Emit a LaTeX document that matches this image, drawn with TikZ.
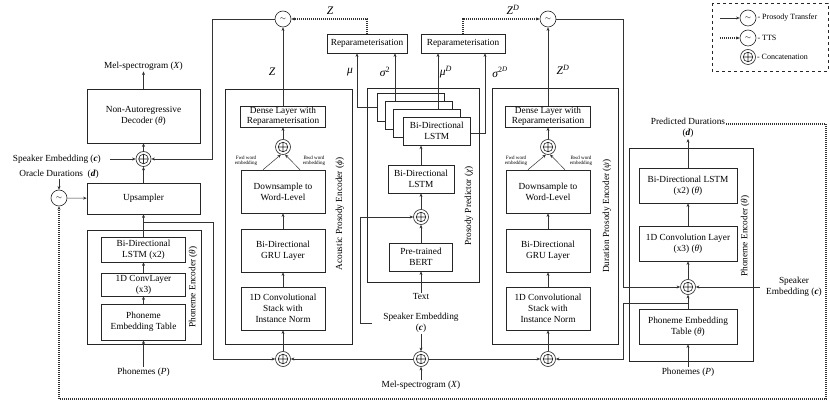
\documentclass[tikz,border=0pt]{standalone}
\usepackage{fontspec}
\setmainfont{Liberation Serif}
\usepackage{xcolor}
\usetikzlibrary{arrows, shapes, positioning, arrows.meta, calc}

\newcommand{\lblfont}{\fontsize{9.3}{11}\selectfont}
\newcommand{\symfont}{\fontsize{11.5}{12}\selectfont\itshape}

\tikzstyle{block} = [draw=black!85, line width=0.6pt, fill=white, align=center, inner sep=1pt, font=\lblfont]
\tikzstyle{group} = [draw=black!85, line width=0.6pt]
\tikzstyle{stack} = [block, anchor=north west, minimum width=67pt, minimum height=28pt]
\tikzstyle{lbl} = [align=center, inner sep=1pt, font=\lblfont]
\tikzstyle{side} = [lbl, rotate=90]
\tikzstyle{sym} = [inner sep=1pt, font=\symfont]
\tikzstyle{tiny} = [align=center, inner sep=0pt, font=\fontsize{5}{5.5}\selectfont]
\tikzstyle{key} = [anchor=west, inner sep=1pt, font=\fontsize{8}{9}\selectfont]
\tikzstyle{arrow} = [draw=black!80, line width=0.5pt, -{Stealth[length=3.6pt,width=3pt]}]
\tikzstyle{tts} = [arrow, line width=1.1pt, dash pattern=on 1.1pt off 0.9pt]
\tikzstyle{switch} = [circle, draw=black!85, line width=0.6pt, fill=white, minimum size=16pt, inner sep=0pt, font=\scriptsize]
\tikzstyle{concat} = [circle, draw=black!85, line width=0.6pt, fill=white, minimum size=15pt, inner sep=0pt,
  path picture={\draw[line width=0.6pt] (path picture bounding box.center) circle (4.8pt)
    ([xshift=-4.8pt]path picture bounding box.center) -- ([xshift=4.8pt]path picture bounding box.center)
    ([yshift=-4.8pt]path picture bounding box.center) -- ([yshift=4.8pt]path picture bounding box.center);}]

\begin{document}
\begin{tikzpicture}[x=1pt, y=-1pt]
\useasboundingbox (0,0) rectangle (830,403);

% encoder outlines
\draw[group] (87,230) rectangle (201,344);
\draw[group] (225,89) rectangle (352,344);
\draw[group] (367,88) rectangle (479,282);
\draw[group] (492,88) rectangle (618,344);
\draw[group] (629,148) rectangle (753,361);
\node[side] (encL) at (193,287) {Phoneme Encoder (\textit{θ})};
\node[side] (encA) at (340,214) {Acoustic Prosody Encoder (\textit{ϕ})};
\node[side] (encP) at (469,206) {Prosody Predictor (\textit{χ})};
\node[side] (encD) at (607,216) {Duration Prosody Encoder (\textit{ψ})};
\node[side] (encR) at (745,236) {Phoneme Encoder (\textit{θ})};

% decoder side
\node[block, minimum width=113pt, minimum height=54pt] (dec) at (143.5,116) {Non-Autoregressive\\Decoder (\textit{θ})};
\node[lbl] (melL) at (143.5,66) {Mel-spectrogram (\textit{X})};
\node[concat] (catL) at (143.5,159) {};
\node[lbl, anchor=east] (spkL) at (102,159) {Speaker Embedding (\textbf{\textit{c}})};
\node[lbl] (orc) at (59,174) {Oracle Durations \ (\textbf{\textit{d}})};
\node[switch] (swL) at (59,198) {$\sim$};
\node[block, minimum width=113pt, minimum height=31pt] (ups) at (143.5,198.5) {Upsampler};
\node[block, minimum width=84pt, minimum height=25pt] (lstmL) at (143.5,249.5) {Bi-Directional\\LSTM (x2)};
\node[block, minimum width=84pt, minimum height=23pt] (convL) at (143.5,284.5) {1D ConvLayer\\(x3)};
\node[block, minimum width=84pt, minimum height=36pt] (embL) at (143.5,322) {Phoneme\\Embedding Table};
\node[lbl] (phonL) at (143.5,372) {Phonemes (\textit{P})};
\draw[arrow] (dec) -- (melL);
\draw[arrow] (catL) -- (dec);
\draw[arrow] ([xshift=8pt]spkL.east) -- (catL);
\draw[arrow] (ups) -- (catL);
\draw[arrow] (orc) -- (swL);
\draw[arrow] (swL) -- (ups);
\draw[arrow] (lstmL) -- (ups);
\draw[arrow] (convL) -- (lstmL);
\draw[arrow] (embL) -- (convL);
\draw[arrow] (phonL) -- (embL);

% acoustic and duration prosody encoders
\foreach \p/\x/\f/\b in {A/283/-37/31, D/548/-32/33} {
  \node[block, minimum width=85pt, minimum height=21pt, inner sep=0.5pt, font=\fontsize{9.3}{10}\selectfont] (dense\p) at (\x,116.5) {Dense Layer with\\Reparameterisation};
  \node[concat] (word\p) at (\x,147) {};
  \node[tiny] (fwd\p) at (\x+\f,161) {Fwd word\\embedding};
  \node[tiny] (bwd\p) at (\x+\b,161) {Bwd word\\embedding};
  \node[block, minimum width=84pt, minimum height=43pt] (down\p) at (\x,191.5) {Downsample to\\Word-Level};
  \node[block, minimum width=84pt, minimum height=43pt] (gru\p) at (\x,250.5) {Bi-Directional\\GRU Layer};
  \node[block, minimum width=84pt, minimum height=43pt] (conv\p) at (\x,308.5) {1D Convolutional\\Stack with\\Instance Norm};
  \node[concat] (mix\p) at (\x,359) {};
  \node[switch] (sw\p) at (\x,19) {$\sim$};
  \draw[arrow] (mix\p) -- (conv\p);
  \draw[arrow] (conv\p) -- (gru\p);
  \draw[arrow] (gru\p) -- (down\p);
  \draw[arrow] ([xshift=-20pt]down\p.north) -- (word\p.-105);
  \draw[arrow] ([xshift=17pt]down\p.north) -- (word\p.-75);
  \draw[arrow] (word\p) -- (dense\p);
  \draw[arrow] (dense\p) -- (sw\p);
}
\node[sym] (zA) at (272,72) {Z};
\node[sym] (zD) at (563,70) {Z\textsuperscript{D}};

% prosody predictor
\node[block, minimum width=80pt, minimum height=19pt] (rep1) at (367,43.5) {Reparameterisation};
\node[block, minimum width=84pt, minimum height=19pt] (rep2) at (463,43.5) {Reparameterisation};
\node[sym] at (330,11) {Z};
\node[sym] at (513,10) {Z\textsuperscript{D}};
\foreach \n/\x/\y in {A/377/93, B/385/101, C/393/109}
  \node[stack] (lstm\n) at (\x,\y) {};
\node[stack] (lstmD) at (403,117) {Bi-Directional\\LSTM};
\node[block, minimum width=66pt, minimum height=28pt] (lstmP) at (421,179) {Bi-Directional\\LSTM};
\node[concat] (catP) at (421,217) {};
\node[block, minimum width=63pt, minimum height=28pt] (bert) at (421,257) {Pre-trained\\BERT};
\node[lbl] (txt) at (421,297) {Text};
\draw[arrow] (txt) -- (bert);
\draw[arrow] (bert) -- (catP);
\draw[arrow] (catP) -- (lstmP);
\draw[arrow] (lstmP) -- (lstmP |- lstmD.south);
\draw[arrow] (lstmA.west) -| ([xshift=-10pt]rep1.south);
\draw[arrow] ([xshift=10pt]lstmB.north west) -- ([xshift=10pt]lstmB.north west |- rep1.south);
\draw[arrow] ([xshift=45pt]lstmC.north west) -- ([xshift=45pt]lstmC.north west |- rep2.south);
\draw[arrow] ([yshift=-2pt]lstmD.east) -| ([xshift=22pt]rep2.south);
\node[sym] at (350,72) {μ};
\node[sym] at (385,72) {σ\textsuperscript{\upshape 2}};
\node[sym] at (446,72) {μ\textsuperscript{D}};
\node[sym] at (500,72) {σ\textsuperscript{\upshape 2\raisebox{0.5ex}{\scriptsize\itshape D}}};
\draw[tts] (rep1.north) |- (swA);
\draw[tts] (rep2.north) |- (swD);

% shared inputs
\node[lbl] (spkM) at (421,323) {Speaker Embedding\\(\textbf{\textit{c}})};
\node[concat] (catM) at (421,359) {};
\node[lbl] (melM) at (421,385) {Mel-spectrogram (\textit{X})};
\draw[arrow] (spkM) -- (catM);
\draw[arrow] (melM) -- (catM);
\draw[arrow] (catM) -- (mixA);
\draw[arrow] (catM) -- (mixD);
\draw[arrow] ([xshift=-10pt]spkM.west) -- ++(-12pt,0) |- (catP);
\draw[arrow] ([yshift=-8pt]ups.south) -| ([xshift=-62pt]mixA.west) -- (mixA);
\draw[arrow] (swA) -| ([xshift=61pt]catL.east) -- (catL);

% duration side
\node[block, minimum width=98pt, minimum height=35pt] (lstmR) at (688,185.5) {Bi-Directional LSTM\\(x2) (\textit{θ})};
\node[block, minimum width=98pt, minimum height=35pt] (convR) at (688,243.5) {1D Convolution Layer\\(x3) (\textit{θ})};
\node[concat] (catR) at (688,287) {};
\node[block, minimum width=98pt, minimum height=35pt] (embR) at (688,326.5) {Phoneme Embedding\\Table (\textit{θ})};
\node[lbl] (phonR) at (688,372) {Phonemes (\textit{P})};
\node[lbl] (predR) at (688,128) {Predicted Durations\\(\textbf{\textit{d}})};
\node[lbl] (spkR) at (794,287) {Speaker\\Embedding (\textbf{\textit{c}})};
\draw[arrow] (phonR) -- (embR);
\draw[arrow] (embR) -- (catR);
\draw[arrow] (catR) -- (convR);
\draw[arrow] (convR) -- (lstmR);
\draw[arrow] (lstmR) -- (predR);
\draw[arrow] ([xshift=-5pt]spkR.west) -- (catR);
\draw[arrow] (swD) -| ([xshift=-56.5pt]catR.west) -- (catR);
\draw[arrow] ([yshift=5pt]embR.north) -| ([xshift=67.5pt]mixD.east) -- (mixD);
\coordinate (ttsR) at (826,399);
\draw[tts] ([yshift=4pt]predR.east) -| (ttsR) -| (swL);

% legend
\draw[dashed, draw=black!85] (712,3) rectangle (828,71);
\node[switch] (lgA) at (748,18) {$\sim$};
\node[switch] (lgB) at (748,38) {$\sim$};
\node[concat] (lgC) at (748,57) {};
\coordinate (lgA0) at (720,18);
\coordinate (lgB0) at (720,38);
\draw[arrow] (lgA0) -- (lgA);
\draw[tts] (lgB0) -- (lgB);
\node[key] at (lgA.east) {- Prosody Transfer};
\node[key] at (lgB.east) {- TTS};
\node[key] at (lgC.east) {- Concatenation};
\end{tikzpicture}
\end{document}
